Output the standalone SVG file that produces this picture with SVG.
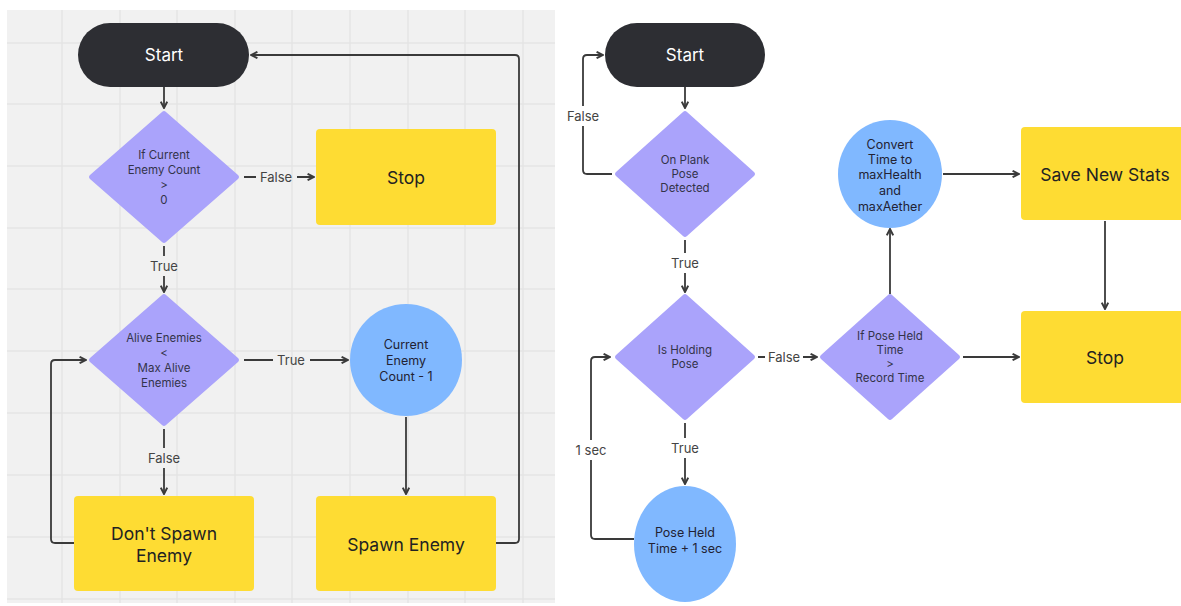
<svg xmlns="http://www.w3.org/2000/svg" width="1181" height="606" viewBox="0 0 1181 606">
<defs>
<style>
.t{font-family:Inter,"Noto Sans","Liberation Sans",sans-serif;text-anchor:middle;dominant-baseline:central}
.term{fill:#2d2e33}
.termt{fill:#ffffff;font-size:17px}
.dia{fill:#aaa3fb}
.diat{fill:#33334a;font-size:11.5px}
.box{fill:#fedc33}
.boxt{fill:#222222;font-size:17.5px}
.circ{fill:#80b8ff}
.circt{fill:#222233;font-size:12.5px}
.con{fill:none;stroke:#3a3a3a;stroke-width:1.8;stroke-linejoin:round}
.lbl{fill:#444444;font-size:13px}
.grid{stroke:#e5e5e5;stroke-width:1.5}
</style>
<marker id="ah" viewBox="0 0 10 10" refX="9" refY="5" markerWidth="8" markerHeight="8" markerUnits="userSpaceOnUse" orient="auto">
<path d="M1,1 L9,5 L1,9" fill="none" stroke="#3a3a3a" stroke-width="2.4" stroke-linejoin="miter"/>
</marker>
</defs>
<rect width="1181" height="606" fill="#ffffff"/>
<g id="panel-left">
<rect x="7" y="10" width="548" height="593" fill="#f1f1f1"/>
<g class="grid">
<line x1="62" y1="10" x2="62" y2="603"/><line x1="120" y1="10" x2="120" y2="603"/><line x1="177" y1="10" x2="177" y2="603"/><line x1="235" y1="10" x2="235" y2="603"/><line x1="292" y1="10" x2="292" y2="603"/><line x1="350" y1="10" x2="350" y2="603"/><line x1="408" y1="10" x2="408" y2="603"/><line x1="465" y1="10" x2="465" y2="603"/><line x1="523" y1="10" x2="523" y2="603"/>
<line x1="7" y1="43" x2="555" y2="43"/><line x1="7" y1="104" x2="555" y2="104"/><line x1="7" y1="166" x2="555" y2="166"/><line x1="7" y1="228" x2="555" y2="228"/><line x1="7" y1="289" x2="555" y2="289"/><line x1="7" y1="351" x2="555" y2="351"/><line x1="7" y1="413" x2="555" y2="413"/><line x1="7" y1="475" x2="555" y2="475"/><line x1="7" y1="537" x2="555" y2="537"/><line x1="7" y1="599" x2="555" y2="599"/>
</g>
</g>
<g id="connectors">
<path class="con" d="M164,87 V108" marker-end="url(#ah)"/>
<path class="con" d="M244,177 H256 M297,177 H314" marker-end="url(#ah)"/>
<text class="t lbl" x="276" y="177">False</text>
<path class="con" d="M164,246 V256 M164,276 V292" marker-end="url(#ah)"/>
<text class="t lbl" x="164" y="266">True</text>
<path class="con" d="M244,360 H273 M310,360 H348" marker-end="url(#ah)"/>
<text class="t lbl" x="291" y="360">True</text>
<path class="con" d="M164,429 V448 M164,468 V494" marker-end="url(#ah)"/>
<text class="t lbl" x="164" y="458">False</text>
<path class="con" d="M406,417 V494" marker-end="url(#ah)"/>
<path class="con" d="M74,543 H55 Q51,543 51,539 V364 Q51,360 55,360 H86" marker-end="url(#ah)"/>
<path class="con" d="M496,543 H515 Q519,543 519,539 V59 Q519,55 515,55 H251" marker-end="url(#ah)"/>

<path class="con" d="M685,87 V108" marker-end="url(#ah)"/>
<path class="con" d="M612,174 H587 Q583,174 583,170 V126 M583,106 V59 Q583,55 587,55 H603" marker-end="url(#ah)"/>
<text class="t lbl" x="583" y="116">False</text>
<path class="con" d="M685,240 V253 M685,273 V292" marker-end="url(#ah)"/>
<text class="t lbl" x="685" y="263">True</text>
<path class="con" d="M758,357 H765 M803,357 H817" marker-end="url(#ah)"/>
<text class="t lbl" x="784" y="357">False</text>
<path class="con" d="M963,357 H1019" marker-end="url(#ah)"/>
<path class="con" d="M890,294 V229" marker-end="url(#ah)"/>
<path class="con" d="M943,174 H1019" marker-end="url(#ah)"/>
<path class="con" d="M1105,221 V309" marker-end="url(#ah)"/>
<path class="con" d="M685,423 V438 M685,458 V484" marker-end="url(#ah)"/>
<text class="t lbl" x="685" y="448">True</text>
<path class="con" d="M634,539 H595 Q591,539 591,535 V460 M591,440 V361 Q591,357 595,357 H610" marker-end="url(#ah)"/>
<text class="t lbl" x="591" y="450">1 sec</text>
</g>
<g id="start-left"><rect class="term" x="78" y="23" width="171" height="64" rx="32"/><text class="t termt" x="164" y="55">Start</text></g>
<g id="cond-count"><path class="dia" d="M162,112 Q164,110 166,112 L238,175 Q240,177 238,179 L166,242 Q164,244 162,242 L90,179 Q88,177 90,175 Z"/><text class="t diat" x="164" y="155">If Current</text><text class="t diat" x="164" y="170">Enemy Count</text><text class="t diat" x="164" y="185">&gt;</text><text class="t diat" x="164" y="200">0</text></g>
<g id="stop-left"><rect class="box" x="316" y="129" width="180" height="96" rx="4"/><text class="t boxt" x="406" y="177">Stop</text></g>
<g id="cond-alive"><path class="dia" d="M162,295 Q164,293 166,295 L238,358 Q240,360 238,362 L166,425 Q164,427 162,425 L90,362 Q88,360 90,358 Z"/><text class="t diat" x="164" y="338">Alive Enemies</text><text class="t diat" x="164" y="353">&lt;</text><text class="t diat" x="164" y="368">Max Alive</text><text class="t diat" x="164" y="383">Enemies</text></g>
<g id="dec-count"><circle class="circ" cx="406" cy="360" r="56"/><text class="t circt" x="406" y="344">Current</text><text class="t circt" x="406" y="360">Enemy</text><text class="t circt" x="406" y="376">Count - 1</text></g>
<g id="dont-spawn"><rect class="box" x="74" y="496" width="180" height="95" rx="4"/><text class="t boxt" x="164" y="533">Don't Spawn</text><text class="t boxt" x="164" y="555">Enemy</text></g>
<g id="spawn"><rect class="box" x="316" y="496" width="180" height="95" rx="4"/><text class="t boxt" x="406" y="544">Spawn Enemy</text></g>

<g id="start-right"><rect class="term" x="605" y="23" width="160" height="64" rx="32"/><text class="t termt" x="685" y="55">Start</text></g>
<g id="cond-plank"><path class="dia" d="M683,112 Q685,110 687,112 L754,172 Q756,174 754,176 L687,236 Q685,238 683,236 L616,176 Q614,174 616,172 Z"/><text class="t diat" x="685" y="160">On Plank</text><text class="t diat" x="685" y="174">Pose</text><text class="t diat" x="685" y="188">Detected</text></g>
<g id="cond-holding"><path class="dia" d="M683,295 Q685,293 687,295 L754,355 Q756,357 754,359 L687,419 Q685,421 683,419 L616,359 Q614,357 616,355 Z"/><text class="t diat" x="685" y="350">Is Holding</text><text class="t diat" x="685" y="364">Pose</text></g>
<g id="cond-record"><path class="dia" d="M888,295 Q890,293 892,295 L959,355 Q961,357 959,359 L892,419 Q890,421 888,419 L821,359 Q819,357 821,355 Z"/><text class="t diat" x="890" y="336">If Pose Held</text><text class="t diat" x="890" y="350">Time</text><text class="t diat" x="890" y="364">&gt;</text><text class="t diat" x="890" y="378">Record Time</text></g>
<g id="convert"><ellipse class="circ" cx="890" cy="174" rx="52" ry="54"/><text class="t circt" x="890" y="144">Convert</text><text class="t circt" x="890" y="159">Time to</text><text class="t circt" x="890" y="174">maxHealth</text><text class="t circt" x="890" y="190">and</text><text class="t circt" x="890" y="206">maxAether</text></g>
<g id="save-stats"><rect class="box" x="1021" y="127" width="175" height="93" rx="4"/><text class="t boxt" x="1105" y="174">Save New Stats</text></g>
<g id="stop-right"><rect class="box" x="1021" y="311" width="175" height="92" rx="4"/><text class="t boxt" x="1105" y="357">Stop</text></g>
<g id="pose-held"><ellipse class="circ" cx="685" cy="544" rx="51" ry="58"/><text class="t circt" x="685" y="532">Pose Held</text><text class="t circt" x="685" y="548">Time + 1 sec</text></g>
</svg>
